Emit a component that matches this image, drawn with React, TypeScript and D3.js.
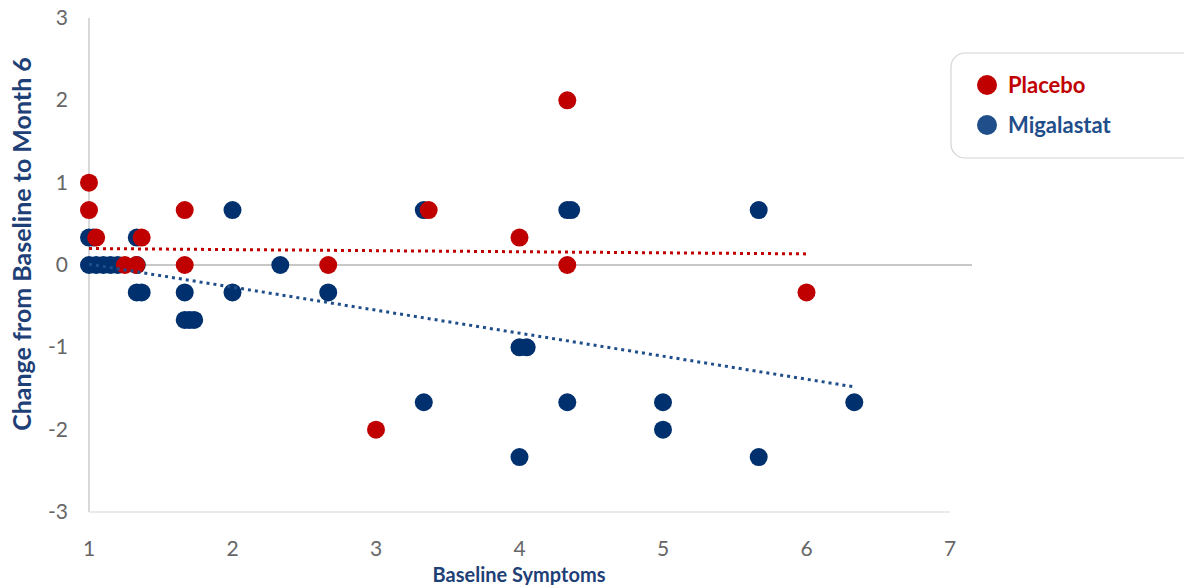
import React from "react";
import * as d3 from "d3";

// Placebo points [baseline, change]
const placeboX = [1, 1, 1.05, 1.25, 1.33, 1.367, 1.667, 1.667, 2.667, 3, 3.367, 4, 4.333, 4.333, 6];
const placeboY = [1, 0.667, 0.333, 0, 0, 0.333, 0.667, 0, 0, -2, 0.667, 0.333, 2, 0, -0.333];

// Migalastat points
const migalastatX = [
  1, 1.03, 1, 1.05, 1.1, 1.15, 1.2, 1.333, 1.333, 1.333, 1.367, 1.667, 1.667, 1.7, 1.733,
  2, 2, 2.333, 2.667, 3.333, 3.333, 4, 4.05, 4, 4.333, 4.36, 4.333, 5, 5, 5.667, 5.667, 6.333,
];
const migalastatY = [
  0.333, 0.333, 0, 0, 0, 0, 0, 0.333, 0, -0.333, -0.333, -0.333, -0.667, -0.667, -0.667,
  0.667, -0.333, 0, -0.333, 0.667, -1.667, -1, -1, -2.333, 0.667, 0.667, -1.667, -1.667, -2, 0.667, -2.333, -1.667,
];

// linear trendlines [x, y] endpoints
const placeboTrend: [number, number][] = [[1, 0.2], [6, 0.135]];
const migalastatTrend: [number, number][] = [[1, 0.01], [6.333, -1.48]];

const xTicks = [1, 2, 3, 4, 5, 6, 7];
const yTicks = [-3, -2, -1, 0, 1, 2, 3];

const RED = "#c00000";
const BLUE = "#00306e";
const LEGEND_BLUE = "#1f4e8a";
const FONT = "Lato, 'Open Sans', sans-serif";

export default function App() {
  const width = 1184;
  const height = 585;
  const x = d3.scaleLinear().domain([1, 7]).range([89, 950]);
  const y = d3.scaleLinear().domain([-3, 3]).range([512, 18]);
  const line = d3
    .line<[number, number]>()
    .x((d) => x(d[0]))
    .y((d) => y(d[1]));

  return (
    <svg width={width} height={height} style={{ position: "absolute", left: 0, top: 0, background: "#fff" }}>
      {/* axes */}
      <line x1={x(1)} x2={x(1)} y1={y(3)} y2={y(-3)} stroke="#d9d9d9" strokeWidth={2} />
      <line x1={x(1)} x2={x(7)} y1={y(-3)} y2={y(-3)} stroke="#e3e3e3" strokeWidth={1.5} />
      <line x1={x(1)} x2={972} y1={y(0)} y2={y(0)} stroke="#c8c8c8" strokeWidth={2} />

      {xTicks.map((t) => (
        <text key={t} x={x(t)} y={556} textAnchor="middle" fontSize={21} fill="#666" fontFamily={FONT}>
          {t}
        </text>
      ))}
      {yTicks.map((t) => (
        <text key={t} x={68} y={y(t) + 7} textAnchor="end" fontSize={21} fill="#666" fontFamily={FONT}>
          {t}
        </text>
      ))}

      <text
        transform={`translate(31,244) rotate(-90)`}
        textAnchor="middle"
        fontSize={25}
        fontWeight="bold"
        fill="#1f3f77"
        fontFamily={FONT}
      >
        Change from Baseline to Month 6
      </text>
      <text x={519} y={582} textAnchor="middle" fontSize={20} fontWeight="bold" fill="#1f3f77" fontFamily={FONT}>
        Baseline Symptoms
      </text>

      {/* points */}
      {migalastatX.map((v, i) => (
        <circle key={"m" + i} cx={x(v)} cy={y(migalastatY[i])} r={9} fill={BLUE} />
      ))}
      {placeboX.map((v, i) => (
        <circle key={"p" + i} cx={x(v)} cy={y(placeboY[i])} r={9} fill={RED} />
      ))}

      {/* trendlines */}
      <path d={line(placeboTrend) || ""} fill="none" stroke={RED} strokeWidth={3} strokeDasharray="3 4" />
      <path d={line(migalastatTrend) || ""} fill="none" stroke={LEGEND_BLUE} strokeWidth={3} strokeDasharray="3 4" />

      {/* legend */}
      <rect x={951} y={53} width={250} height={105} rx={14} fill="#fff" stroke="#d4d4d4" strokeWidth={1.2} />
      <circle cx={987} cy={85} r={10} fill={RED} />
      <text x={1008} y={93} fontSize={22} fontWeight="bold" fill={RED} fontFamily={FONT}>
        Placebo
      </text>
      <circle cx={987} cy={125} r={10} fill={LEGEND_BLUE} />
      <text x={1008} y={133} fontSize={22} fontWeight="bold" fill={LEGEND_BLUE} fontFamily={FONT}>
        Migalastat
      </text>
    </svg>
  );
}
